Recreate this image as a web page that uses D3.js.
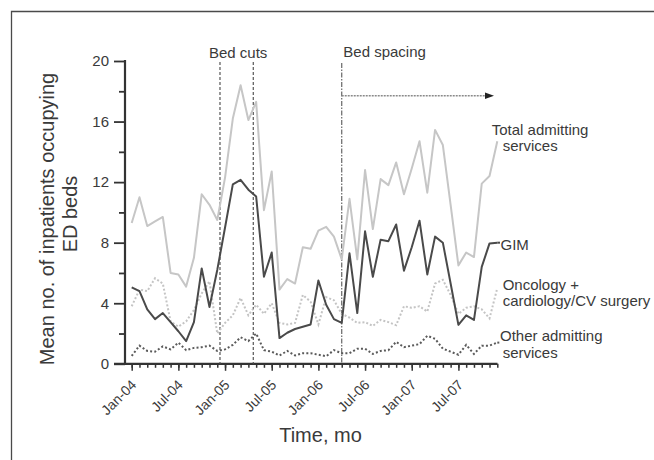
<!DOCTYPE html>
<html>
<head>
<meta charset="utf-8">
<script src="https://cdn.jsdelivr.net/npm/d3@7"></script>
<style>
  html, body { margin: 0; padding: 0; background: #fff; }
  svg { display: block; }
  text { font-family: "Liberation Sans", Arial, Helvetica, sans-serif; fill: #3a3a3a; }
</style>
</head>
<body>
<svg id="chart" width="654" height="460"></svg>
<script>
// ---- data ----
const years = ["04", "05", "06", "07"];
const monthNames = ["Jan","Feb","Mar","Apr","May","Jun","Jul","Aug","Sep","Oct","Nov","Dec"];
const months = [];
years.forEach(y => monthNames.forEach(m => months.push(m + "-" + y)));
const tickLabels = ["Jan-04","Jul-04","Jan-05","Jul-05","Jan-06","Jul-06","Jan-07","Jul-07"];

const totalServices = [9.3, 11.0, 9.1, 9.4, 9.7, 6.0, 5.9, 5.1, 7.0, 11.2, 10.5, 9.5,
  12.3, 16.2, 18.4, 16.1, 17.3, 10.15, 12.7, 4.9, 5.6, 5.3, 7.7, 7.6,
  8.8, 9.05, 8.4, 6.9, 10.9, 6.9, 12.8, 8.9, 12.2, 11.8, 13.3, 11.2,
  12.9, 14.7, 11.3, 15.45, 14.45, 10.5, 6.5, 7.35, 7.05, 11.9, 12.4, 14.7];
const gim = [5.05, 4.8, 3.6, 2.95, 3.35, 2.75, 2.15, 1.5, 2.75, 6.3, 3.75, 6.2,
  9.0, 11.85, 12.15, 11.5, 11.05, 5.75, 7.35, 1.7, 2.05, 2.3, 2.45, 2.6,
  5.5, 3.9, 2.95, 2.7, 7.3, 3.35, 8.75, 5.75, 8.2, 8.1, 9.2, 6.15,
  7.7, 9.45, 5.9, 8.4, 8.0, 5.3, 2.57, 3.2, 2.9, 6.4, 7.95, 8.0];
const oncologyCardio = [3.8, 4.9, 4.8, 5.65, 5.3, 2.8, 2.45, 2.8, 3.55, 4.65, 5.45, 2.0,
  2.7, 3.2, 4.35, 3.2, 3.9, 3.3, 4.0, 2.7, 2.6, 2.7, 4.55, 4.1,
  2.6, 4.4, 4.2, 3.3, 3.05, 2.7, 2.75, 2.5, 2.9, 2.75, 2.55, 3.8,
  3.7, 3.8, 3.45, 5.3, 5.55, 4.55, 3.3, 3.7, 3.8, 3.6, 3.0, 5.0];
const otherServices = [0.52, 1.2, 0.85, 0.8, 1.15, 0.95, 1.4, 0.9, 1.05, 1.1, 1.2, 0.85,
  0.95, 1.25, 1.75, 1.5, 2.0, 0.9, 0.8, 0.55, 0.85, 0.55, 0.7, 0.7,
  0.6, 0.5, 0.9, 0.7, 0.7, 1.0, 1.0, 0.65, 0.85, 0.9, 1.45, 1.1,
  1.2, 1.3, 1.85, 1.65, 1.0, 0.8, 0.6, 1.25, 0.65, 1.2, 1.2, 1.4];
const yTicks = [0, 4, 8, 12, 16, 20];
const yMinorTicks = [2, 6, 10, 14, 18];
// event markers (month index, fractional)
const bedCuts = [11.35, 15.63];
const bedSpacing = 27.0;
const arrowLevel = 17.7;

// ---- layout ----
const svg = d3.select("#chart");
const x = d3.scaleLinear().domain([0, months.length - 1]).range([131.7, 497.3]);
const y = d3.scaleLinear().domain([0, 20]).range([363.8, 61]);

// frame (top and left)
svg.append("path").attr("d", "M11.5,460 V11.5 H654")
  .attr("fill", "none").attr("stroke", "#4a4a4a").attr("stroke-width", 1.3);

// axes
const yAxis = d3.axisLeft(y).tickValues(yTicks).tickSize(11).tickPadding(5).tickFormat(d3.format("d"));
const gy = svg.append("g").attr("transform", "translate(125,0)").call(yAxis);
gy.select(".domain").remove();
gy.selectAll(".tick line").attr("stroke", "#333").attr("stroke-width", 1.8);
gy.selectAll(".tick text").style("font-size", "15px").attr("fill", "#3a3a3a")
  .style("font-family", "Liberation Sans, Arial, sans-serif");
const yMinor = d3.axisLeft(y).tickValues(yMinorTicks).tickSize(6).tickFormat("");
const gym = svg.append("g").attr("transform", "translate(125,0)").call(yMinor);
gym.select(".domain").remove();
gym.selectAll(".tick line").attr("stroke", "#333").attr("stroke-width", 1.8);
svg.append("line").attr("x1", 125).attr("x2", 125).attr("y1", y(20) - 1).attr("y2", y(0) + 1)
  .attr("stroke", "#333").attr("stroke-width", 2.2);

// x axis
const monthIdx = d3.range(months.length);
const xMinor = d3.axisBottom(x).tickValues(monthIdx).tickSize(4).tickFormat("");
const gxm = svg.append("g").attr("transform", `translate(0,${y(0)})`).call(xMinor);
gxm.select(".domain").remove();
gxm.selectAll(".tick line").attr("stroke", "#333").attr("stroke-width", 1.5);
const majorIdx = tickLabels.map(l => months.indexOf(l));
const xMajor = d3.axisBottom(x).tickValues(majorIdx).tickSize(7).tickFormat(i => months[i]);
const gx = svg.append("g").attr("transform", `translate(0,${y(0)})`).call(xMajor);
gx.select(".domain").remove();
gx.selectAll(".tick line").attr("stroke", "#333").attr("stroke-width", 1.5);
gx.selectAll(".tick text")
  .style("font-size", "14px").attr("fill", "#3a3a3a")
  .style("font-family", "Liberation Sans, Arial, sans-serif")
  .attr("text-anchor", "end")
  .attr("y", 0).attr("dy", 0)
  .attr("transform", "translate(5,22) rotate(-45)");
svg.append("line").attr("x1", 114).attr("x2", 497.5).attr("y1", y(0)).attr("y2", y(0))
  .attr("stroke", "#333").attr("stroke-width", 2.2);

// axis titles
svg.append("text").attr("transform", "translate(54,219) rotate(-90)")
  .attr("text-anchor", "middle").style("font-size", "20px").text("Mean no. of inpatients occupying");
svg.append("text").attr("transform", "translate(77,214) rotate(-90)")
  .attr("text-anchor", "middle").style("font-size", "20px").text("ED beds");
svg.append("text").attr("x", 320.5).attr("y", 442).attr("text-anchor", "middle")
  .style("font-size", "20px").text("Time, mo");

// event lines
bedCuts.forEach(v => {
  svg.append("line").attr("x1", x(v)).attr("x2", x(v)).attr("y1", 62).attr("y2", y(0))
    .attr("stroke", "#555").attr("stroke-width", 1.2).attr("stroke-dasharray", "3,2");
});
svg.append("line").attr("x1", x(bedSpacing)).attr("x2", x(bedSpacing)).attr("y1", 63).attr("y2", y(0))
  .attr("stroke", "#666").attr("stroke-width", 1.2).attr("stroke-dasharray", "5,1.5,1.5,1.5");
svg.append("text").attr("x", 209).attr("y", 58.3).style("font-size", "15px").text("Bed cuts");
svg.append("text").attr("x", 343.3).attr("y", 57).style("font-size", "15px").text("Bed spacing");
// arrow
svg.append("line").attr("x1", x(bedSpacing)).attr("x2", 486).attr("y1", y(arrowLevel)).attr("y2", y(arrowLevel))
  .attr("stroke", "#8a8a8a").attr("stroke-width", 1.6).attr("stroke-dasharray", "2,1");
svg.append("path")
  .attr("d", `M485,${y(arrowLevel) - 3.2} L494,${y(arrowLevel)} L485,${y(arrowLevel) + 3.2} Z`)
  .attr("fill", "#222");

// series lines
const line = d3.line().x((d, i) => x(i)).y(d => y(d));
svg.append("path").datum(totalServices).attr("d", line)
  .attr("fill", "none").attr("stroke", "#c6c6c6").attr("stroke-width", 2).attr("stroke-linejoin", "round");
svg.append("path").datum(oncologyCardio).attr("d", line)
  .attr("fill", "none").attr("stroke", "#c4c4c4").attr("stroke-width", 2).attr("stroke-dasharray", "2,2");
svg.append("path").datum(otherServices).attr("d", line)
  .attr("fill", "none").attr("stroke", "#5a5a5a").attr("stroke-width", 2).attr("stroke-dasharray", "2,2.2");
svg.append("path").datum(gim).attr("d", line)
  .attr("fill", "none").attr("stroke", "#4a4a4a").attr("stroke-width", 2).attr("stroke-linejoin", "round");
// small leaders to labels
const last = months.length - 1;
svg.append("line").attr("x1", x(last)).attr("x2", 500).attr("y1", y(gim[last])).attr("y2", y(gim[last]))
  .attr("stroke", "#4a4a4a").attr("stroke-width", 2);
svg.append("line").attr("x1", x(last)).attr("x2", 500).attr("y1", y(otherServices[last])).attr("y2", y(otherServices[last]))
  .attr("stroke", "#5a5a5a").attr("stroke-width", 2).attr("stroke-dasharray", "2,1.5");

// series labels
const lab = (tx, ty, s) => svg.append("text").attr("x", tx).attr("y", ty).style("font-size", "15px").text(s);
lab(491.7, 135, "Total admitting");
lab(502.7, 151, "services");
lab(500.5, 250, "GIM");
lab(502.7, 290, "Oncology +");
lab(502.7, 306, "cardiology/CV surgery");
lab(500, 341, "Other admitting");
lab(502.7, 358, "services");
</script>
</body>
</html>
